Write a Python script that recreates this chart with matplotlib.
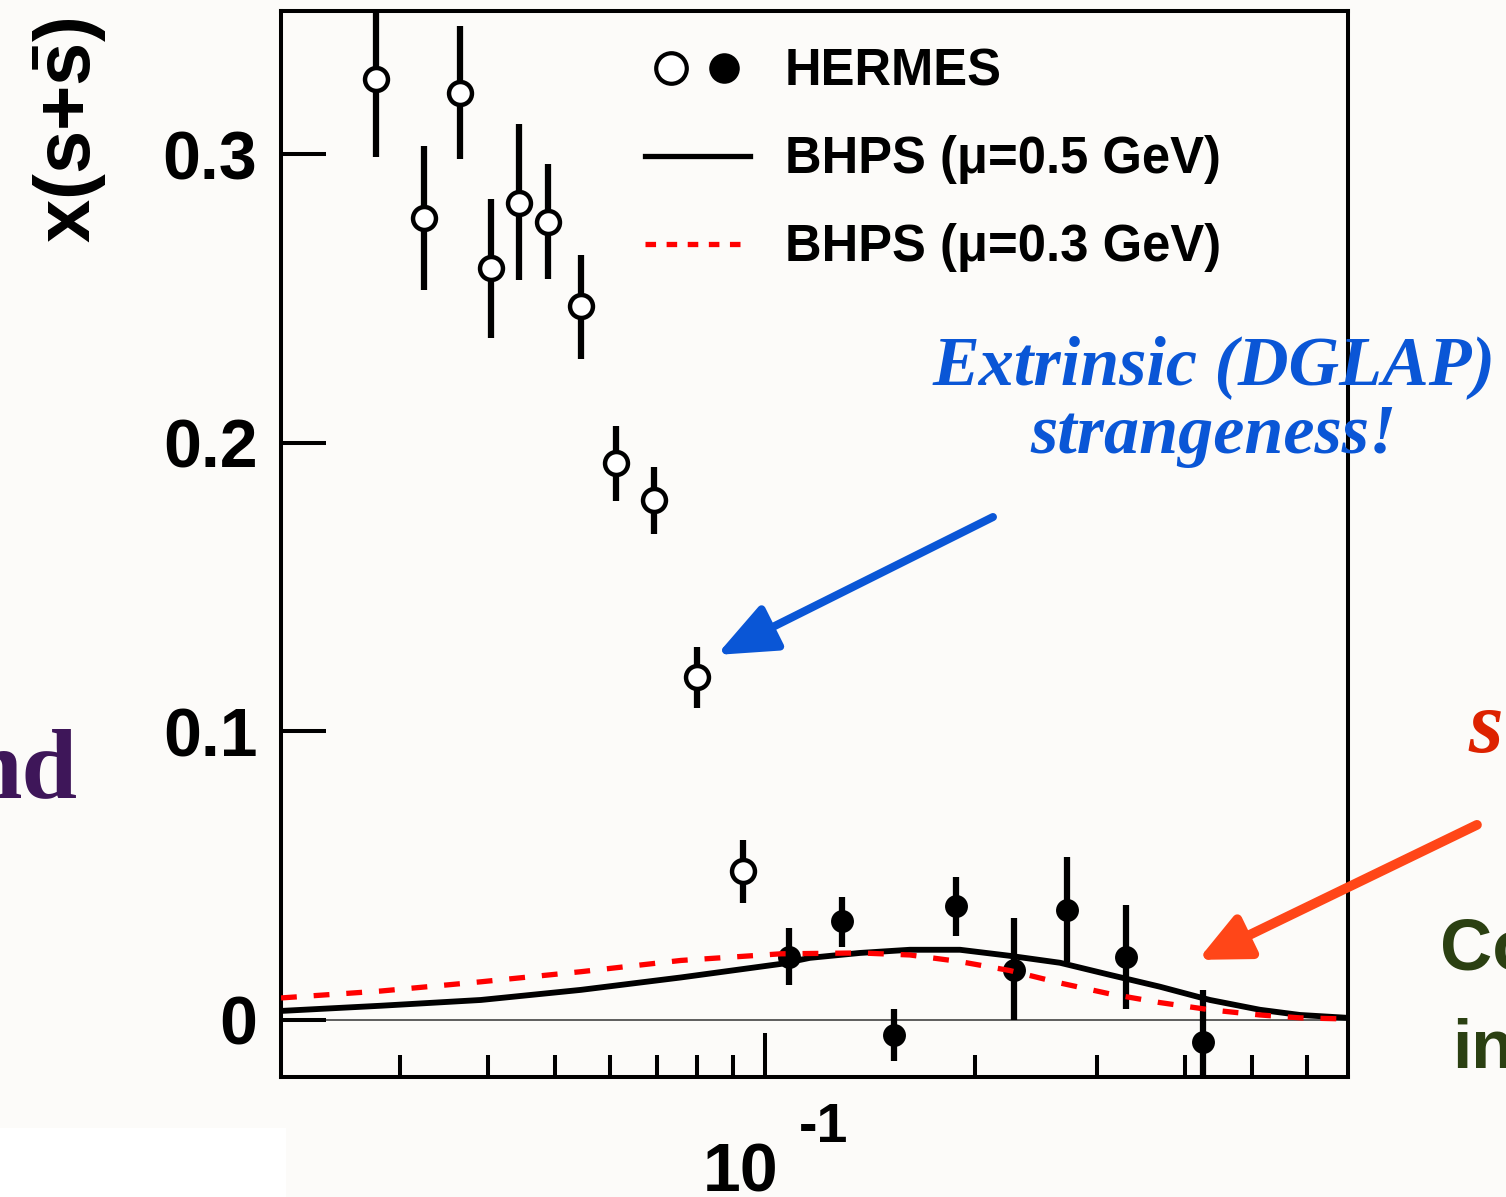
import numpy as np
import matplotlib
matplotlib.use("Agg")
import matplotlib.pyplot as plt
from matplotlib.lines import Line2D
from matplotlib.patches import Rectangle
from matplotlib.legend_handler import HandlerTuple
from matplotlib.ticker import FixedLocator, LogLocator, NullFormatter, NullLocator

plt.rcParams['font.family'] = ['Liberation Sans', 'DejaVu Sans']
plt.rcParams['font.weight'] = 'bold'
plt.rcParams['mathtext.fontset'] = 'custom'
plt.rcParams['mathtext.rm'] = 'Liberation Sans'
plt.rcParams['mathtext.bf'] = 'Liberation Sans:bold'

# HERMES open points (low x)
open_x = [0.02766, 0.03245, 0.03648, 0.04042, 0.04445, 0.04886, 0.05445, 0.06111, 0.06929, 0.07990, 0.09299]
open_y = [0.3260, 0.2778, 0.3214, 0.2605, 0.2833, 0.2767, 0.2473, 0.1931, 0.1802, 0.1189, 0.0516]
open_hi = [0.3520, 0.3029, 0.3445, 0.2845, 0.3104, 0.2967, 0.2652, 0.2059, 0.1917, 0.1293, 0.0624]
open_lo = [0.2990, 0.2529, 0.2983, 0.2363, 0.2565, 0.2567, 0.2290, 0.1799, 0.1685, 0.1081, 0.0406]

# HERMES filled points (high x)
fill_x = [0.1084, 0.1288, 0.1531, 0.1877, 0.2279, 0.2710, 0.3296, 0.4246]
fill_y = [0.0219, 0.0341, -0.0052, 0.0395, 0.0173, 0.0381, 0.0219, -0.0075]
fill_hi = [0.0318, 0.0425, 0.0037, 0.0495, 0.0352, 0.0564, 0.0399, 0.0104]
fill_lo = [0.0121, 0.0251, -0.0144, 0.0291, -0.0002, 0.0202, 0.0038, -0.0210]

# BHPS curves
bhps05_x = [0.02022, 0.02812, 0.03913, 0.05445, 0.07575, 0.1054, 0.116, 0.1369, 0.1614, 0.1905,
            0.2246, 0.2650, 0.3126, 0.3687, 0.4349, 0.5131, 0.5855, 0.6863]
bhps05_y = [0.0031, 0.0049, 0.0069, 0.0104, 0.0147, 0.0194, 0.0215, 0.0232, 0.0243, 0.0243,
            0.0222, 0.0198, 0.0156, 0.0115, 0.0069, 0.0035, 0.0017, 0.0007]
bhps03_x = [0.02022, 0.02812, 0.03913, 0.05445, 0.07575, 0.1054, 0.1369, 0.1614, 0.1905, 0.2246,
            0.2650, 0.3126, 0.3687, 0.4349, 0.5131, 0.5855, 0.6863]
bhps03_y = [0.0076, 0.0100, 0.0132, 0.0167, 0.0206, 0.0229, 0.0232, 0.0225, 0.0202, 0.0171,
            0.0128, 0.0090, 0.0060, 0.0035, 0.0017, 0.0007, 0.0003]

yticks = [0, 0.1, 0.2, 0.3]
ytick_labels = ['0', '0.1', '0.2', '0.3']

bg = '#fcfbf9'
fig = plt.figure(figsize=(15.06, 11.97), dpi=100, facecolor=bg)
fig.add_artist(Rectangle((0, 0), 286 / 1506, 69 / 1197, transform=fig.transFigure,
                         facecolor='white', edgecolor='none', zorder=0))
ax = fig.add_axes([281 / 1506, 1 - 1077 / 1197, 1067 / 1506, 1066 / 1197])
ax.set_facecolor('none')

ax.axhline(0, color='#333333', lw=1.1, zorder=1)

oy = np.array(open_y)
ax.errorbar(open_x, oy, yerr=[oy - np.array(open_lo), np.array(open_hi) - oy], fmt='o',
            mfc='white', mec='black', mew=3.2, ms=16.5, ecolor='black', elinewidth=4.5,
            capsize=0, zorder=3)
fy = np.array(fill_y)
ax.errorbar(fill_x, fy, yerr=[fy - np.array(fill_lo), np.array(fill_hi) - fy], fmt='o',
            mfc='black', mec='black', mew=0, ms=16.5, ecolor='black', elinewidth=4.5,
            capsize=0, zorder=3)

ax.plot(bhps05_x, bhps05_y, color='black', lw=4.2, zorder=4)
ax.plot(bhps03_x, bhps03_y, color='red', lw=3.8, ls=(0, (3, 3.2)), zorder=4)

ax.set_xscale('log')
ax.set_xlim(0.02022, 0.6863)
ax.set_ylim(-0.0198, 0.3497)

ax.xaxis.set_major_locator(FixedLocator([0.1]))
ax.xaxis.set_minor_locator(LogLocator(base=10, subs=range(2, 10), numticks=20))
ax.xaxis.set_major_formatter(NullFormatter())
ax.xaxis.set_minor_formatter(NullFormatter())
ax.set_yticks(yticks)
ax.set_yticklabels(ytick_labels)
ax.yaxis.set_minor_locator(NullLocator())

ax.tick_params(axis='y', which='major', direction='in', length=32.4, width=2.9,
               left=True, right=False, labelsize=49, pad=17)
ax.tick_params(axis='x', which='major', direction='in', length=31.7, width=2.9, top=False)
ax.tick_params(axis='x', which='minor', direction='in', length=15.8, width=2.9, top=False)
for s in ax.spines.values():
    s.set_linewidth(2.9)

# 10^-1 label, ROOT style
xt = ax.get_xaxis_transform()
ax.annotate('10', xy=(0.1, 0), xycoords=xt, xytext=(-17.3, -82.8), textcoords='offset points',
            ha='center', va='baseline', fontsize=49, fontweight='bold')
ax.annotate('-1', xy=(0.1, 0), xycoords=xt, xytext=(24.5, -46.6), textcoords='offset points',
            ha='left', va='baseline', fontsize=40, fontweight='bold')

fig.text(70 / 1506, 1 - 130 / 1197, r'$\mathbf{x(s{+}\bar{s})}$', rotation=90,
         ha='center', va='center', fontsize=56)

# legend
h_open = Line2D([], [], ls='none', marker='o', ms=22, mfc='white', mec='black', mew=3)
h_fill = Line2D([], [], ls='none', marker='o', ms=22, mfc='black', mec='black', mew=0)
h_solid = Line2D([], [], color='black', lw=3.8)
h_dash = Line2D([], [], color='red', lw=3.8, ls=(0, (2.0, 2.0)))
ax.legend([(h_open, h_fill), h_solid, h_dash],
          ['HERMES', 'BHPS (μ=0.5 GeV)', 'BHPS (μ=0.3 GeV)'],
          handler_map={tuple: HandlerTuple(ndivide=None, pad=0)},
          loc='upper left', bbox_to_anchor=(0.341, 0.966), frameon=False,
          borderpad=0, borderaxespad=0, handlelength=2.07, handletextpad=0.69,
          labelspacing=0.77, fontsize=36.5, numpoints=1)

# annotations
blue = '#0a56d6'
orange = '#ff4618'
fig.text(1214 / 1506, 1 - 402 / 1197, 'Extrinsic (DGLAP)\nstrangeness!', ha='center', va='center',
         family='Liberation Serif', style='italic', weight='bold', size=50.5, color=blue,
         linespacing=1.1)
ax.annotate('', xy=(0.0853, 0.1265), xytext=(0.2124, 0.1743),
            arrowprops=dict(arrowstyle='-|>,head_length=1.8,head_width=0.75', color=blue,
                            lw=5.8, shrinkA=0, shrinkB=0, mutation_scale=20),
            annotation_clip=False)
ax.annotate('', xy=(0.4181, 0.0208), xytext=(1.0508, 0.0676),
            arrowprops=dict(arrowstyle='-|>,head_length=1.5,head_width=0.7', color=orange,
                            lw=7, shrinkA=0, shrinkB=0, mutation_scale=20),
            annotation_clip=False)

fig.text(77 / 1506, 1 - 797 / 1197, 'nd', ha='right', va='baseline', family='Liberation Serif',
         weight='bold', size=72, color='#3e1659')
fig.text(1468 / 1506, 1 - 752 / 1197, 's', ha='left', va='baseline', family='Liberation Serif',
         style='italic', weight='bold', size=64, color='#dd2200')
fig.text(1440 / 1506, 1 - 970 / 1197, 'Co', ha='left', va='baseline', weight='bold', size=52,
         color='#2b4012')
fig.text(1452 / 1506, 1 - 1068 / 1197, 'in', ha='left', va='baseline', weight='bold', size=50,
         color='#2b4012')

fig.savefig('out.png', dpi=100, facecolor=bg)
